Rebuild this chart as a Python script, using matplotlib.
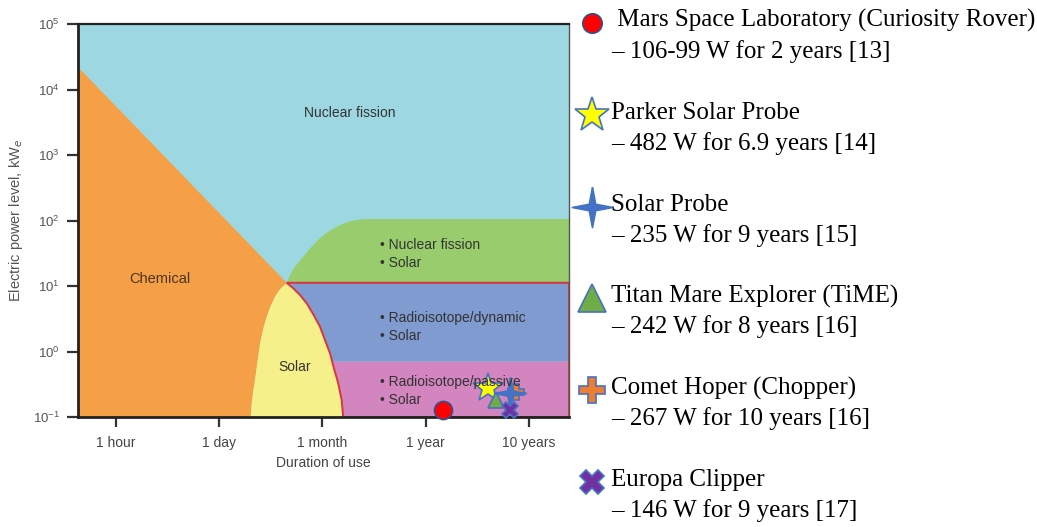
import numpy as np
import matplotlib.pyplot as plt
from matplotlib.patches import Polygon

plt.rcParams['font.family'] = ['Liberation Sans', 'DejaVu Sans']

W, H = 1037, 527

# x axis: equally spaced duration ticks (1 hour = 0 ... 10 years = 4)
tick_labels = ['1 hour', '1 day', '1 month', '1 year', '10 years']
x_lim = (-0.37, 4.39)
y_lim = (0.1, 1e5)

# region boundaries (x in tick units, y in kWe)
chem_top = 2.2e4
junction = (1.653, 11.2)
solar_left_x = [1.305, 1.314, 1.330, 1.346, 1.368, 1.395, 1.427, 1.460, 1.498, 1.540, 1.588, 1.653]
solar_left_y = [0.1, 0.162, 0.258, 0.367, 0.66, 1.33, 2.26, 3.40, 4.95, 6.87, 8.9, 11.2]
solar_right_x = [1.653, 1.717, 1.782, 1.847, 1.911, 1.976, 2.024, 2.073, 2.111, 2.153, 2.186, 2.201]
solar_right_y = [11.2, 9.23, 7.29, 5.45, 3.70, 2.39, 1.50, 0.94, 0.555, 0.327, 0.182, 0.1]
green_x = [1.653, 1.685, 1.734, 1.814, 1.895, 1.976, 2.056, 2.137, 2.218, 2.298, 2.38, 2.46]
green_y = [11.2, 14.7, 19.7, 28.0, 39.8, 53.5, 67.5, 80.4, 91.6, 99.3, 104.3, 105.4]
green_top = 105.4
passive_top = 0.70

# missions (marker positions as drawn in the picture)
names = [' Mars Space Laboratory (Curiosity Rover)', 'Parker Solar Probe', 'Solar Probe',
         'Titan Mare Explorer (TiME)', 'Comet Hoper (Chopper)', 'Europa Clipper']
notes = ['\u2013 106-99 W for 2 years [13]', '\u2013 482 W for 6.9 years [14]',
         '\u2013 235 W for 9 years [15]', '\u2013 242 W for 8 years [16]',
         '\u2013 267 W for 10 years [16]', '\u2013 146 W for 9 years [17]']
years = [1.48, 4.0, 6.65, 4.86, 7.6, 6.55]
power_kw = [0.128, 0.274, 0.23, 0.182, 0.244, 0.128]

# 4-pointed star marker
r = 0.16
star4 = [(0, 1), (r, r), (1, 0), (r, -r), (0, -1), (-r, -r), (-1, 0), (-r, r), (0, 1)]

styles = [
    dict(marker='o', mfc='#ff0000', mec='#2f528f', ms=13, lgms=14, z=5),
    dict(marker='*', mfc='#ffff00', mec='#4472c4', ms=22, lgms=26, z=6),
    dict(marker=star4, mfc='#4472c4', mec='#4472c4', ms=23, lgms=29, z=9),
    dict(marker='^', mfc='#70ad47', mec='#4472c4', ms=12, lgms=20, z=7),
    dict(marker='P', mfc='#ed7d31', mec='#4472c4', ms=12, lgms=19, z=8),
    dict(marker='X', mfc='#7030a0', mec='#4472c4', ms=11, lgms=17, z=10),
]

c_cyan = '#9dd8e2'
c_orange = '#f5a046'
c_yellow = '#f6f08a'
c_green = '#98cc6c'
c_blue = '#7f9bd0'
c_pink = '#d385bf'
c_red = '#d9343f'

fig = plt.figure(figsize=(W / 100, H / 100), dpi=100)
ax = fig.add_axes([78 / W, 1 - 417 / H, (569 - 78) / W, (417 - 24) / H])
ax.set_yscale('log')
ax.set_xlim(*x_lim)
ax.set_ylim(*y_lim)
ax.set_facecolor(c_cyan)

x0, x1 = x_lim
# chemical
chem = [(x0, y_lim[0]), (x0, chem_top), junction] + list(zip(solar_left_x[::-1], solar_left_y[::-1]))
ax.add_patch(Polygon(chem, closed=True, fc=c_orange, ec='none', zorder=1))
# solar (yellow)
sol = list(zip(solar_left_x, solar_left_y)) + list(zip(solar_right_x[1:], solar_right_y[1:]))
ax.add_patch(Polygon(sol, closed=True, fc=c_yellow, ec='none', zorder=1))
# nuclear fission + solar (green)
grn = list(zip(green_x, green_y)) + [(x1, green_top), (x1, junction[1])]
ax.add_patch(Polygon(grn, closed=True, fc=c_green, ec='none', zorder=1))

# split right solar boundary at the passive level
ly = np.log10(solar_right_y)
xp = float(np.interp(np.log10(passive_top), ly[::-1], np.array(solar_right_x)[::-1]))
upper = [(x, y) for x, y in zip(solar_right_x, solar_right_y) if y >= passive_top]
lower = [(x, y) for x, y in zip(solar_right_x, solar_right_y) if y < passive_top]
blue = upper + [(xp, passive_top), (x1, passive_top), (x1, junction[1])]
pink = [(xp, passive_top)] + lower + [(x1, y_lim[0]), (x1, passive_top)]
ax.add_patch(Polygon(blue, closed=True, fc=c_blue, ec='none', zorder=1))
ax.add_patch(Polygon(pink, closed=True, fc=c_pink, ec='none', zorder=1))
outline = list(zip(solar_right_x, solar_right_y)) + [(x1, y_lim[0]), (x1, junction[1])]
ax.add_patch(Polygon(outline, closed=True, fc='none', ec=c_red, lw=1.4, zorder=2))

# mission markers
for i, st in enumerate(styles):
    ax.plot(3 + np.log10(years[i]), power_kw[i], ls='none', marker=st['marker'],
            ms=st['ms'], mfc=st['mfc'], mec=st['mec'], mew=1.2, zorder=st['z'], clip_on=False)

ax.set_xticks(range(len(tick_labels)))
ax.set_xticklabels(tick_labels)
ax.set_yticks([10.0 ** k for k in range(-1, 6)])
ax.minorticks_off()
ax.tick_params(axis='y', length=8, width=1.6, color='#333333', labelsize=9.5, labelcolor='#555555', pad=5)
ax.tick_params(axis='x', length=7, width=1.6, color='#333333', labelsize=10, labelcolor='#444444', pad=7)
ax.set_xlabel('Duration of use', fontsize=10, color='#444444', labelpad=4)
ax.set_ylabel('Electric power level, kW$_e$', fontsize=10.5, color='#555555', labelpad=6)
for side in ['left', 'bottom']:
    ax.spines[side].set_linewidth(2)
    ax.spines[side].set_color('#222222')
ax.spines['top'].set_linewidth(1.6)
ax.spines['top'].set_color('#222222')
ax.spines['right'].set_linewidth(1)
ax.spines['right'].set_color('#555555')


def px(x, y):
    return x / W, 1 - y / H


tc = '#333333'
fig.text(*px(350, 113), 'Nuclear fission', fontsize=10, color=tc, ha='center', va='center')
fig.text(*px(160, 279), 'Chemical', fontsize=10.5, color='#4a3520', ha='center', va='center')
fig.text(*px(295, 367), 'Solar', fontsize=10, color=tc, ha='center', va='center')
bullets = [(245, '\u2022 Nuclear fission'), (263, '\u2022 Solar'),
           (318, '\u2022 Radioisotope/dynamic'), (336, '\u2022 Solar'),
           (382, '\u2022 Radioisotope/passive'), (400, '\u2022 Solar')]
for yy, s in bullets:
    fig.text(*px(380, yy), s, fontsize=10, color=tc, ha='left', va='center')

# legend on the right
lax = fig.add_axes([0, 0, 1, 1], zorder=20)
lax.set_xlim(0, W)
lax.set_ylim(H, 0)
lax.axis('off')
serif = ['Liberation Serif', 'DejaVu Serif']
for i, st in enumerate(styles):
    base = 27 + i * 91.8
    lax.plot(592, base - 4, ls='none', marker=st['marker'], ms=st['lgms'],
             mfc=st['mfc'], mec=st['mec'], mew=1.2)
    lax.text(611, base, names[i], fontsize=18, family=serif, va='baseline', ha='left')
    lax.text(611, base + 31, notes[i], fontsize=18, family=serif, va='baseline', ha='left')

fig.savefig('out.png', dpi=100)
